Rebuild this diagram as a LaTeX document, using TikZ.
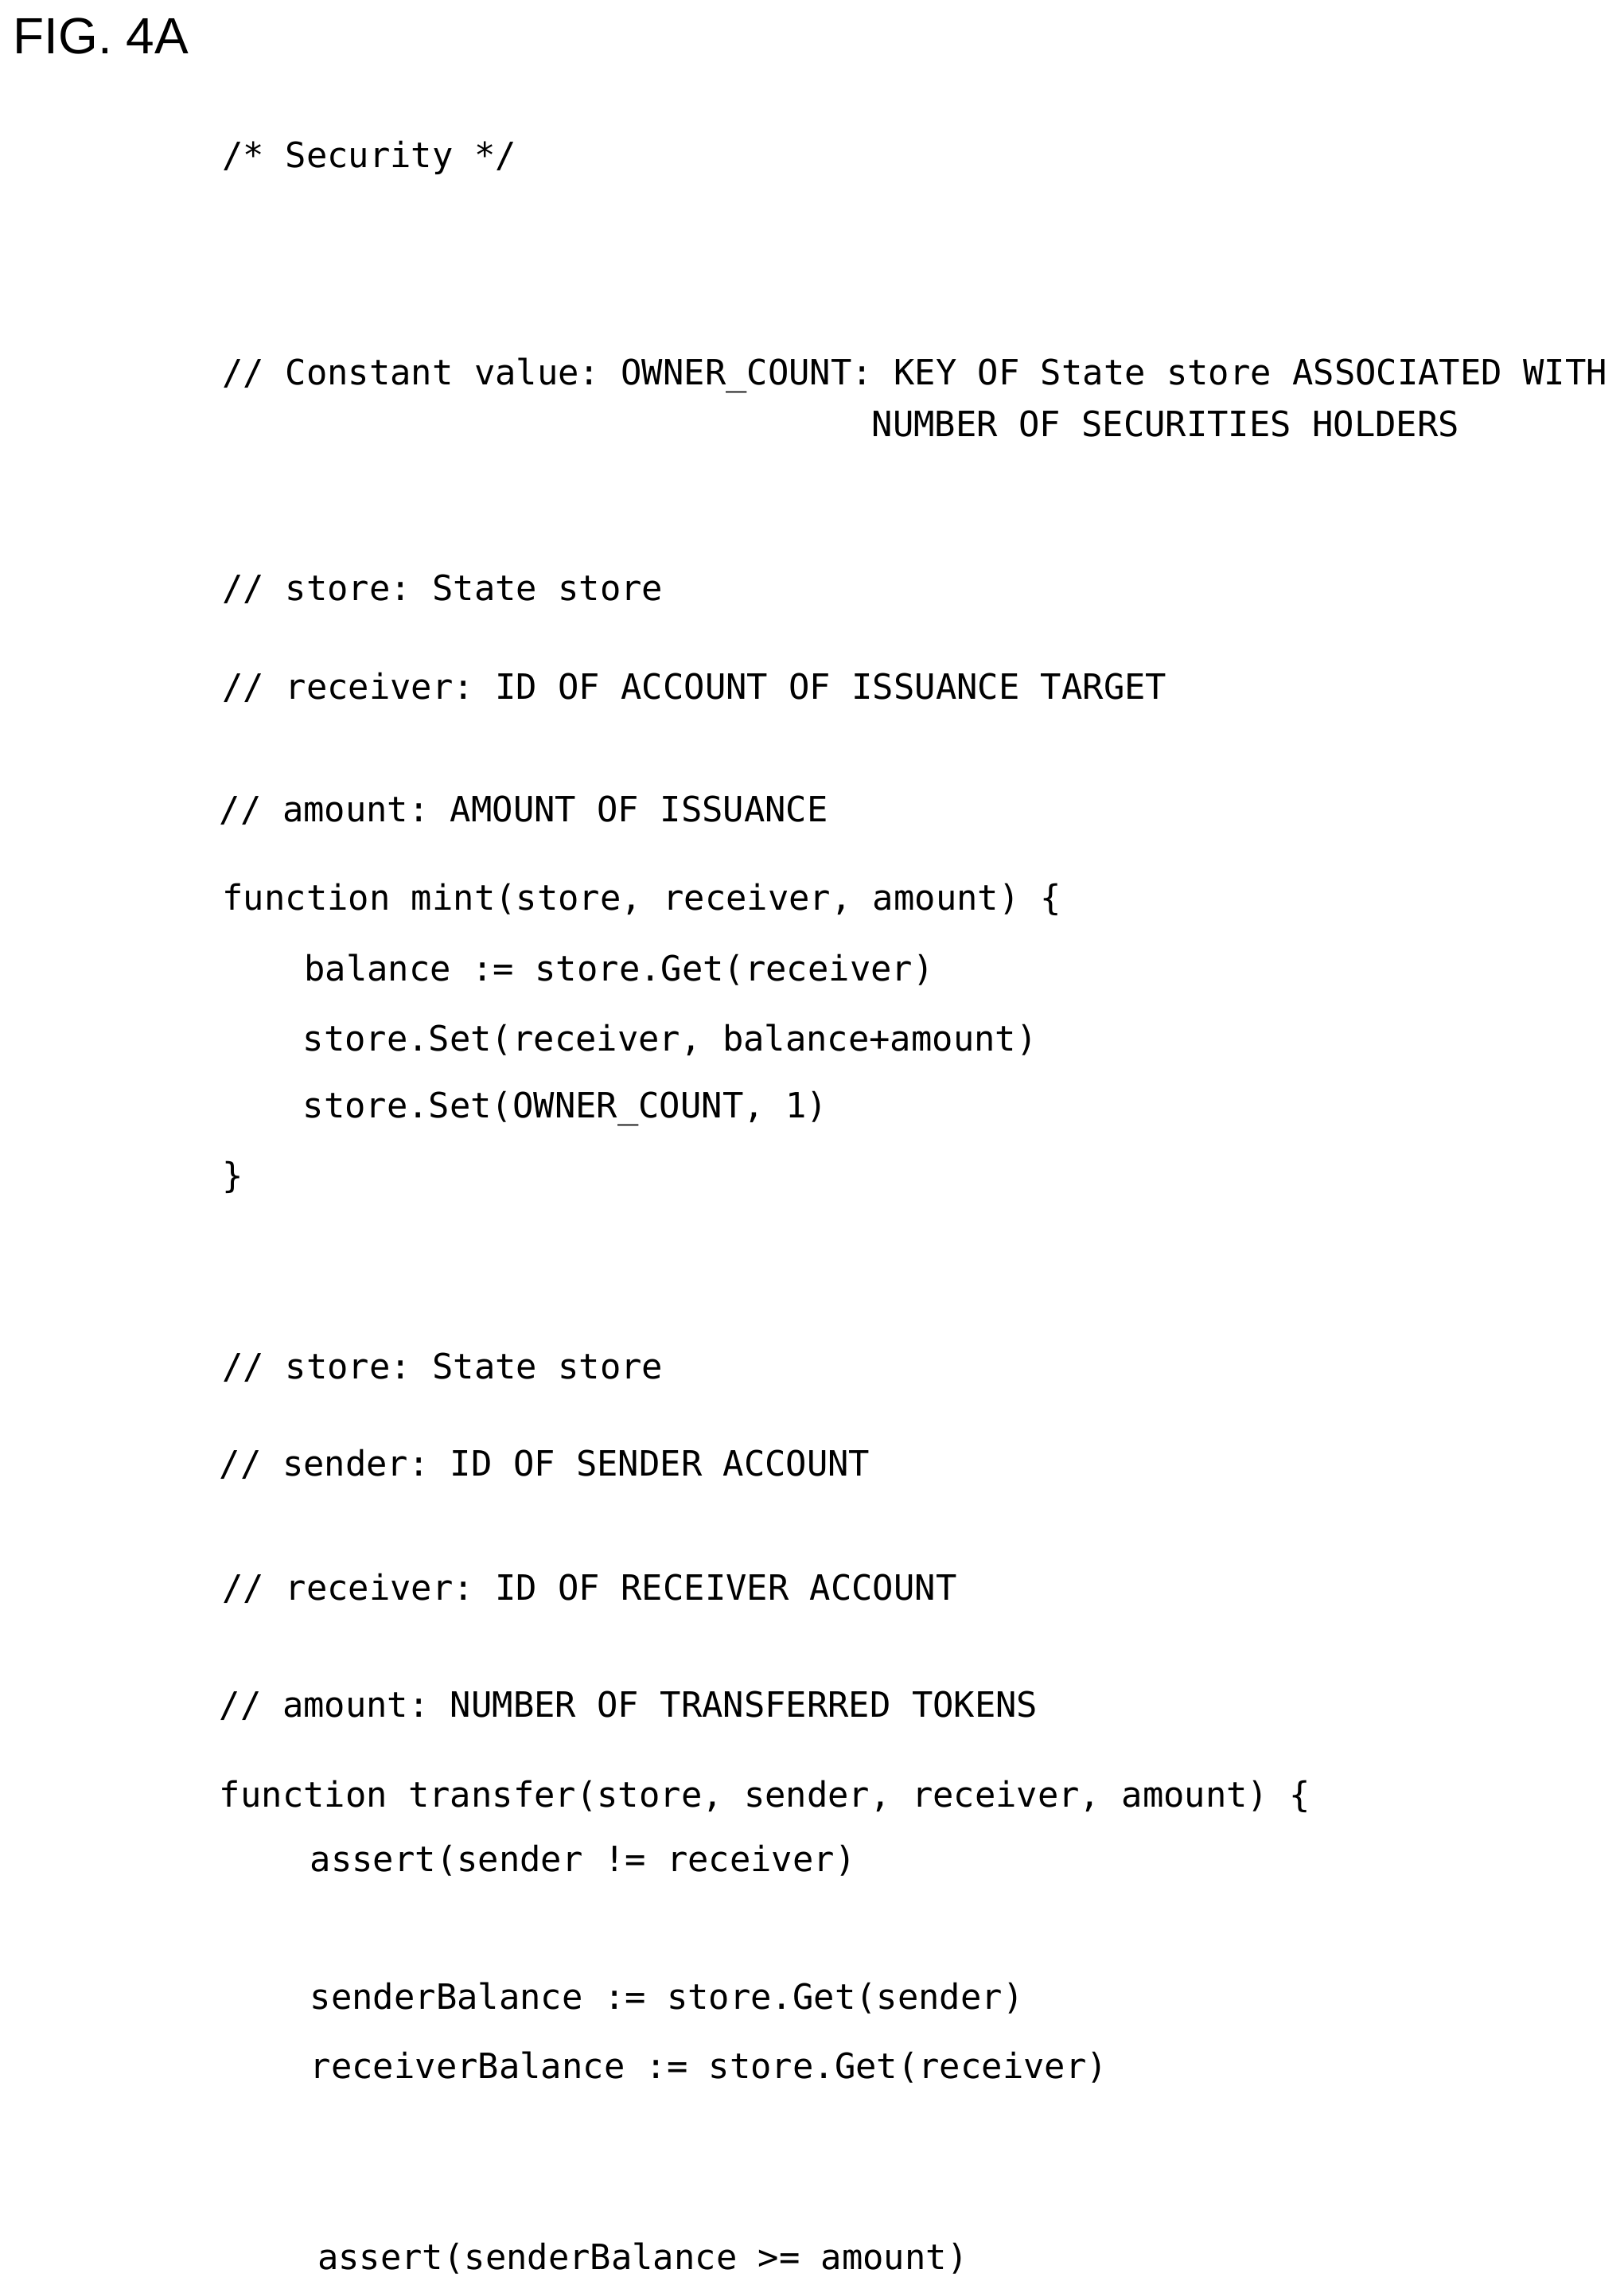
\documentclass[tikz,border=0pt]{standalone}
\usepackage{fontspec}
\setmainfont{Liberation Sans}
\setmonofont{DejaVu Sans Mono}
\begin{document}
\begin{tikzpicture}[x=1.838pt,y=-1.838pt,
  code/.style={anchor=west,inner sep=0pt,font=\ttfamily\fontsize{43.8}{50}\selectfont}]
\useasboundingbox[fill=white] (0,0) rectangle (1110,1562);
\node[anchor=west,inner sep=0pt,font=\fontsize{64}{72}\selectfont] (fig) at (9,25) {FIG. 4A};
\node[code] (l1) at (152,108) {/* Security */};
\node[code] (l2) at (152,257) {// Constant value: OWNER\_COUNT: KEY OF State store ASSOCIATED WITH};
\node[code] (l3) at (596,290) {NUMBER OF SECURITIES HOLDERS};
\node[code] (l4) at (152,403) {// store: State store};
\node[code] (l5) at (152,470) {// receiver: ID OF ACCOUNT OF ISSUANCE TARGET};
\node[code] (l6) at (150,554) {// amount: AMOUNT OF ISSUANCE};
\node[code] (l7) at (152,615) {function mint(store, receiver, amount) \{};
\node[code] (l8) at (208,663) {balance := store.Get(receiver)};
\node[code] (l9) at (207,711) {store.Set(receiver, balance+amount)};
\node[code] (l10) at (207,758) {store.Set(OWNER\_COUNT, 1)};
\node[code] (l11) at (152,805) {\}};
\node[code] (l12) at (152,935) {// store: State store};
\node[code] (l13) at (150,1001) {// sender: ID OF SENDER ACCOUNT};
\node[code] (l14) at (152,1086) {// receiver: ID OF RECEIVER ACCOUNT};
\node[code] (l15) at (150,1166) {// amount: NUMBER OF TRANSFERRED TOKENS};
\node[code] (l16) at (150,1228) {function transfer(store, sender, receiver, amount) \{};
\node[code] (l17) at (212,1272) {assert(sender != receiver)};
\node[code] (l18) at (212,1366) {senderBalance := store.Get(sender)};
\node[code] (l19) at (212,1413) {receiverBalance := store.Get(receiver)};
\node[code] (l20) at (217,1544) {assert(senderBalance >= amount)};
\end{tikzpicture}
\end{document}
